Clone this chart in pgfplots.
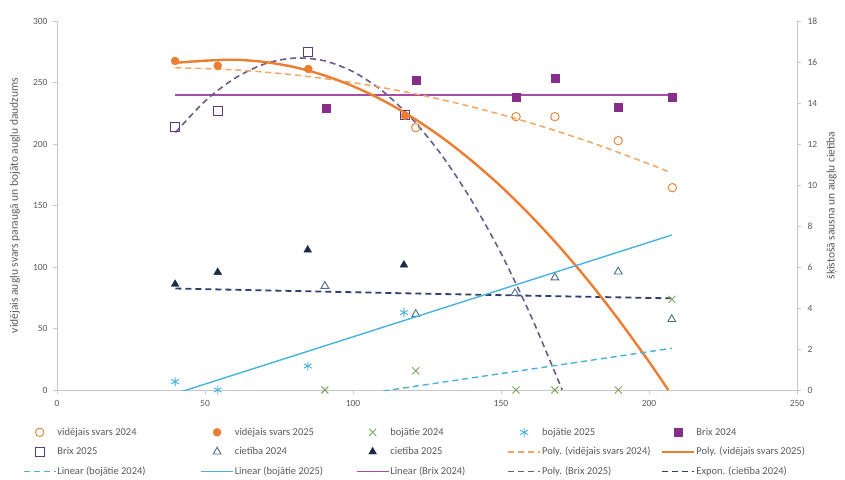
\documentclass[border=0pt]{standalone}
\usepackage{fontspec}
\setmainfont{Carlito}
\usepackage{pgfplots}
\pgfplotsset{compat=1.18}
\definecolor{axisgray}{HTML}{C8C8C8}
\definecolor{txtgray}{HTML}{595959}
\definecolor{cOrange}{HTML}{ED7D31}
\definecolor{cOrangeL}{HTML}{F4A463}
\definecolor{cGreen}{HTML}{7FA35E}
\definecolor{cBlue}{HTML}{47B2E0}
\definecolor{cPurple}{HTML}{872D8A}
\definecolor{cPurpleL}{HTML}{A64CA6}
\definecolor{cPurpleD}{HTML}{5E3A78}
\definecolor{cSlate}{HTML}{4E6E84}
\definecolor{cNavy}{HTML}{1B2A48}
\definecolor{cNavyD}{HTML}{2E3F6E}
\definecolor{cMauve}{HTML}{6C5B8A}
\begin{document}
\begin{tikzpicture}[font=\fontsize{10}{12}\selectfont]
\useasboundingbox (-57pt,-89pt) rectangle (788pt,390pt);
\pgfplotsset{
  common/.style={
    at={(0pt,0pt)}, anchor=south west, scale only axis, width=740pt, height=369pt,
    xmin=0, xmax=250,
    axis line style={-, draw=axisgray, line width=0.8pt},
    tick style={draw=axisgray, line width=0.6pt}, tick align=outside, major tick length=4pt,
    ticklabel style={font=\fontsize{9.5}{11}\selectfont, text=txtgray},
    /pgf/number format/assume math mode=true,
    label style={font=\fontsize{11.5}{13}\selectfont, text=txtgray},
  }
}
% ---------- right axis: Brix and cietība ----------
\begin{axis}[common,
  ymin=0, ymax=18,
  axis x line=none, axis y line*=right,
  ytick={0,2,...,18},
  yticklabel style={xshift=3pt},
  ylabel={šķīstošā sausna un augļu cietība},
  ylabel style={at={(axis description cs:1.047,0.5)}, anchor=center},
]
% Brix 2024
\addplot[only marks, mark=square*, mark size=4pt, color=cPurple] coordinates {
 (90.8,13.77) (121.2,15.12) (155.1,14.3) (168.2,15.2) (189.6,13.8) (207.9,14.3)};
% Brix 2025
\addplot[only marks, mark=square, mark size=4.5pt, color=cPurpleD, line width=1.1pt, mark options={fill=white}] coordinates {
 (39.9,12.84) (54.3,13.6) (84.9,16.5) (117.5,13.4)};
% cietība 2024
\addplot[only marks, mark=triangle, mark size=4.5pt, color=cSlate, line width=0.9pt] coordinates {
 (90.5,5.07) (121.2,3.7) (154.7,4.72) (168.2,5.48) (189.6,5.77) (207.7,3.45)};
% cietība 2025
\addplot[only marks, mark=triangle*, mark size=4.5pt, color=cNavy] coordinates {
 (39.9,5.16) (54.3,5.74) (84.7,6.83) (117.2,6.1)};
% Linear (Brix 2024)
\addplot[cPurpleL, line width=1.6pt] coordinates {(40,14.4) (207.9,14.4)};
% Poly. (Brix 2025)
\addplot[cMauve, line width=1.6pt, dash pattern=on 6pt off 4pt, smooth] coordinates {
 (40,12.56) (50,14.09) (60,15.20) (70,15.90) (80,16.19) (90,16.07) (100,15.53)
 (110,14.58) (120,13.22) (130,11.45) (140,9.26) (150,6.67) (160,3.65) (170,0.24) (175,-1.47)};
% Expon. (cietība 2024)
\addplot[cNavyD, line width=1.8pt, dash pattern=on 6pt off 4pt, smooth] coordinates {
 (40,4.95) (80,4.83) (120,4.71) (160,4.60) (207.7,4.47)};
\end{axis}
% ---------- left axis: vidējais svars and bojātie ----------
\begin{axis}[common,
  ymin=0, ymax=300,
  axis x line*=bottom, axis y line*=left,
  xtick={0,50,...,250}, ytick={0,50,...,300},
  xticklabel style={yshift=-3pt},
  yticklabel style={xshift=-2pt},
  ylabel={vidējais augļu svars paraugā un bojāto augļu daudzums},
  ylabel style={at={(axis description cs:-0.057,0.5)}, anchor=center},
  legend columns=5,
  legend cell align=left,
  legend style={at={(axis description cs:-0.0459,-0.100)}, anchor=north west, draw=none, fill=none,
    inner sep=0pt, outer sep=0pt,
    font=\fontsize{10.5}{12}\selectfont, text=txtgray,
    nodes={inner sep=1pt}, row sep=8.5pt, column sep=0pt},
  legend image code/.code={\draw[mark repeat=2, mark phase=2, #1] plot coordinates {(0pt,0pt) (16pt,0pt) (32pt,0pt)};},
]
% Poly. (vidējais svars 2024)
\addplot[forget plot, cOrangeL, line width=1.5pt, dash pattern=on 6pt off 4pt, smooth] coordinates {
 (40,262.0) (60,260.25) (80,256.21) (100,249.87) (120,241.25) (140,230.32) (160,217.10) (180,201.59) (200,183.79) (206.5,177.5)};
% Poly. (vidējais svars 2025)
\addplot[forget plot, cOrange, line width=2.4pt, smooth] coordinates {
 (40,266.0) (50,267.7) (60,268.5) (70,266.7) (80,262.6) (90,256.0) (100,247.0) (110,235.6) (120,221.7)
 (130,205.4) (140,186.6) (150,165.5) (160,141.8) (170,115.8) (180,87.3) (190,56.3) (200,23.0) (206.5,0)};
% Linear (bojātie 2024)
\addplot[forget plot, cBlue, line width=1.4pt, dash pattern=on 6pt off 4pt] coordinates {(40,-25.8) (207.7,33.9)};
% Linear (bojātie 2025)
\addplot[forget plot, cBlue, line width=1.4pt] coordinates {(40,-2.9) (207.7,126)};
% vidējais svars 2024
\addplot[forget plot, only marks, mark=o, mark size=4.2pt, color=cOrange, line width=0.9pt] coordinates {
 (121.2,213.3) (155.1,222.2) (168.2,222.2) (189.6,202.7) (207.9,164.5)};
% vidējais svars 2025
\addplot[forget plot, only marks, mark=*, mark size=4pt, color=cOrange] coordinates {
 (39.9,267.5) (54.3,263.7) (84.9,261.0) (117.6,223.0)};
% bojātie 2024
\addplot[forget plot, only marks, mark=x, mark size=5pt, color=cGreen, line width=0.9pt] coordinates {
 (90.5,0) (121.2,15.7) (155.1,0) (168.2,0) (189.6,0) (207.7,73.7)};
% bojātie 2025
\addplot[forget plot, only marks, mark=asterisk, mark size=4.5pt, color=cBlue, line width=0.9pt] coordinates {
 (39.9,6.7) (54.3,0) (84.7,19.5) (117.2,62.9)};
% legend
\addlegendimage{only marks, mark=o, mark size=4.2pt, color=cOrange, line width=0.9pt}
\addlegendentry{\makebox[142pt][l]{vidējais svars 2024}}
\addlegendimage{only marks, mark=*, mark size=4pt, color=cOrange}
\addlegendentry{\makebox[120pt][l]{vidējais svars 2025}}
\addlegendimage{only marks, mark=x, mark size=5pt, color=cGreen, line width=0.9pt}
\addlegendentry{\makebox[116pt][l]{bojātie 2024}}
\addlegendimage{only marks, mark=asterisk, mark size=4.5pt, color=cBlue, line width=0.9pt}
\addlegendentry{\makebox[118pt][l]{bojātie 2025}}
\addlegendimage{only marks, mark=square*, mark size=4pt, color=cPurple}
\addlegendentry{Brix 2024}
\addlegendimage{only marks, mark=square, mark size=4.5pt, color=cPurpleD, line width=1.1pt}
\addlegendentry{Brix 2025}
\addlegendimage{only marks, mark=triangle, mark size=4.5pt, color=cSlate, line width=0.9pt}
\addlegendentry{cietība 2024}
\addlegendimage{only marks, mark=triangle*, mark size=4.5pt, color=cNavy}
\addlegendentry{cietība 2025}
\addlegendimage{draw=cOrangeL, line width=1.5pt, dash pattern=on 6pt off 4pt}
\addlegendentry{Poly. (vidējais svars 2024)}
\addlegendimage{draw=cOrange, line width=2.4pt}
\addlegendentry{Poly. (vidējais svars 2025)}
\addlegendimage{draw=cBlue, line width=1.4pt, dash pattern=on 6pt off 4pt}
\addlegendentry{Linear (bojātie 2024)}
\addlegendimage{draw=cBlue, line width=1.4pt}
\addlegendentry{Linear (bojātie 2025)}
\addlegendimage{draw=cPurpleL, line width=1.6pt}
\addlegendentry{Linear (Brix 2024)}
\addlegendimage{draw=cMauve, line width=1.6pt, dash pattern=on 6pt off 4pt}
\addlegendentry{Poly. (Brix 2025)}
\addlegendimage{draw=cNavyD, line width=1.8pt, dash pattern=on 6pt off 4pt}
\addlegendentry{Expon. (cietība 2024)}
\end{axis}
\end{tikzpicture}
\end{document}
